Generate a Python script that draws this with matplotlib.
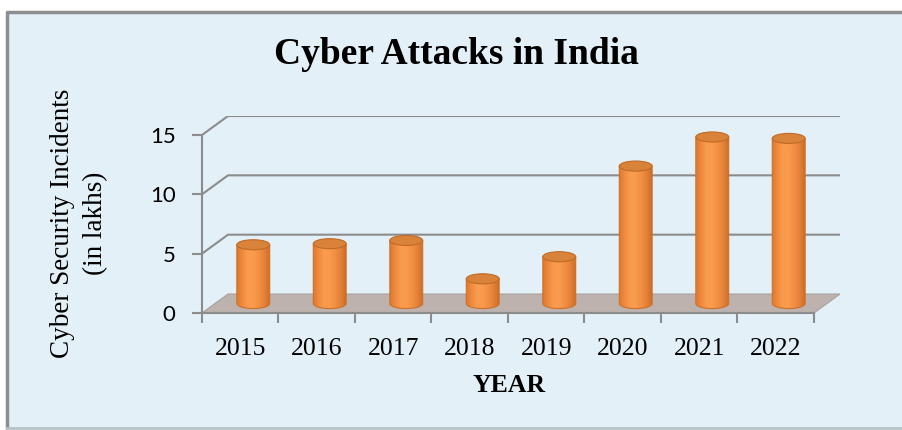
import numpy as np
import matplotlib.pyplot as plt
from matplotlib.patches import Polygon, Ellipse, Rectangle
from matplotlib.lines import Line2D
from matplotlib.colors import LinearSegmentedColormap

# Data
years = ['2015', '2016', '2017', '2018', '2019', '2020', '2021', '2022']
incidents = [4.95, 5.04, 5.31, 2.08, 3.94, 11.58, 14.03, 13.91]  # in lakhs
yticks = [0, 5, 10, 15]

# 3D-look parameters (in data units)
DX = 0.34   # depth offset along x (categories)
DY = 1.6    # depth offset along y (values)
BW = 0.43   # cylinder width
EH = 0.85   # ellipse height

serif = 'Liberation Serif'
grid_col = '#8C8C8C'

fig = plt.figure(figsize=(9.02, 4.30), dpi=100)
fig.patch.set_facecolor('white')

# Background panel with frame
fig.patches.append(Rectangle((7/902, 2/430), 1, 416/430, transform=fig.transFigure,
                             facecolor='#E3F0F7', edgecolor='none', zorder=-5))
fig.lines.append(Line2D([7/902, 7/902, 1], [2/430, 418/430, 418/430],
                        transform=fig.transFigure, color='#8E8E8E', lw=2.5, zorder=-4))
fig.lines.append(Line2D([7/902, 1], [2/430, 2/430], transform=fig.transFigure,
                        color='#B5C2C8', lw=2, zorder=-4))

ax = fig.add_axes([202/902, 117/430, 638/902, 197/430])
ax.set_zorder(1)
ax.patch.set_alpha(0)

# Floor
n = len(years)
ax.add_patch(Polygon([(0, 0), (n, 0), (n + DX, DY), (DX, DY)],
                     facecolor='#BDB2AD', edgecolor='#A8A09C', lw=0.8, zorder=1))

# Gridlines (side wall diagonal + back wall)
for v in yticks[1:]:
    ax.plot([0, DX, n + DX], [v, v + DY, v + DY], color=grid_col, lw=1.5, zorder=1)

# Spines and ticks
for s in ['top', 'right']:
    ax.spines[s].set_visible(False)
ax.spines['left'].set_bounds(0, 15)
ax.spines['bottom'].set_bounds(0, n)
for s in ['left', 'bottom']:
    ax.spines[s].set_color(grid_col)
    ax.spines[s].set_linewidth(1.5)
    ax.spines[s].set_zorder(2)

ax.set_yticks(yticks)
ax.set_yticklabels([str(t) for t in yticks], fontfamily='Lato', fontsize=16)
ax.tick_params(axis='y', direction='out', length=7, width=1.5, color=grid_col, pad=12)

ax.set_xticks(np.arange(n + 1))
ax.set_xticklabels([])
ax.set_xticks(np.arange(n) + 0.5, minor=True)
ax.set_xticklabels(years, minor=True, fontfamily=serif, fontsize=18.5)
ax.tick_params(axis='x', which='major', direction='out', length=7, width=1.5, color=grid_col)
ax.tick_params(axis='x', which='minor', length=0, pad=18)

# Cylinders
cyl_cmap = LinearSegmentedColormap.from_list(
    'cyl', ['#DC7A30', '#F08A3E', '#FA9C50', '#F99A4C', '#F29043', '#E5823A', '#CC6E28'])
grad = np.linspace(0, 1, 64).reshape(1, -1)

for i, v in enumerate(incidents):
    cx = i + 0.5 + DX / 2
    base = DY / 2
    t = np.linspace(np.pi, 2 * np.pi, 40)
    pts = [(cx - BW / 2, base + v)]
    pts += list(zip(cx + BW / 2 * np.cos(t), base + EH / 2 * np.sin(t)))
    pts += [(cx + BW / 2, base + v)]
    body = Polygon(pts, closed=True, facecolor='none', edgecolor='#CF7028', lw=0.8, zorder=4)
    ax.add_patch(body)
    im = ax.imshow(grad, extent=[cx - BW / 2, cx + BW / 2, base - EH / 2, base + v],
                   aspect='auto', cmap=cyl_cmap, zorder=3, interpolation='bilinear')
    im.set_clip_path(body)
    ax.add_patch(Ellipse((cx, base + v), BW, EH, facecolor='#D9823A',
                         edgecolor='#C06A25', lw=0.8, zorder=5))

ax.set_xlim(0, n + DX)
ax.set_ylim(0, 15 + DY)

# Texts
fig.text(456/902, 1 - 54/430, 'Cyber Attacks in India', ha='center', va='center',
         fontfamily=serif, fontweight='bold', fontsize=27)
fig.text(79/902, 1 - 223/430, 'Cyber Security Incidents\n(in lakhs)', ha='center',
         va='center', rotation=90, multialignment='center', fontfamily=serif,
         fontsize=19.5, linespacing=1.4)
fig.text(509/902, 1 - 385/430, 'YEAR', ha='center', va='center',
         fontfamily=serif, fontweight='bold', fontsize=18.5)

fig.savefig('out.png', dpi=100)
